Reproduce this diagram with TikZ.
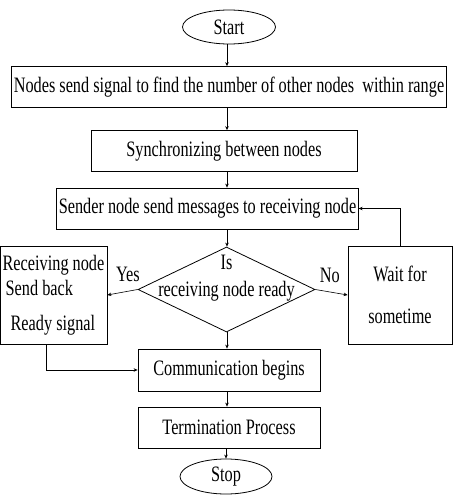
\documentclass[tikz,border=0pt]{standalone}
\usepackage{fontspec}
\setmainfont{Liberation Serif}[FakeStretch=0.74]
\usetikzlibrary{shapes.geometric,arrows.meta}

\begin{document}
\begin{tikzpicture}[x=1pt,y=1pt]
\tikzset{every node/.style={font=\fontsize{22}{25}\selectfont, inner sep=2pt},
	box/.style={draw, line width=0.8pt, minimum height=41pt},
	terminal/.style={draw, ellipse, line width=0.8pt, inner sep=0pt},
	decision/.style={draw, diamond, shape aspect=2.08, line width=0.8pt, inner sep=0pt, text height=15pt, text depth=2pt},
	flow/.style={draw, line width=0.6pt, -{Stealth[length=4pt,width=3.5pt]}}}
\useasboundingbox (0,0) rectangle (453,-495);
\coordinate (axis) at (227,0);

				\node[terminal, minimum width=93pt, minimum height=34pt] (start) at (229,-27) {Start};
				\node[box, minimum width=432pt] (probe) at (229,-87) {Nodes send signal to find the number of other nodes~ within range};
				\node[box, minimum width=266pt] (sync) at (224,-151) {Synchronizing between nodes};
				\node[box, minimum width=297pt] (sender) at (207.5,-208.5) {Sender node send messages to receiving node};
				\node[decision, minimum width=177pt, minimum height=85pt,
					label={[anchor=north, inner sep=2pt, yshift=-6pt]north:Is}] (ready) at (226.5,-289.5) {receiving node ready};
				\node[box, minimum width=107pt, minimum height=98pt, align=left] (back) at (53.5,-295)
					{Receiving node\\\hspace*{3pt}Send back\\[10pt]\hspace*{8pt}Ready signal};
				\node[box, minimum width=104pt, minimum height=98pt, align=center] (wait) at (400,-295)
					{Wait for\\[17pt]sometime};
				\node[box, minimum width=182pt, minimum height=42pt] (comm) at (229,-370) {Communication begins};
				\node[box, minimum width=182pt] (finish) at (229,-427.5) {Termination Process};
				\node[terminal, minimum width=92pt, minimum height=35pt] (stop) at (226,-476.5) {Stop};

% main line down the middle
				\draw[flow] (start.south -| axis) -- (probe.north -| axis);
				\draw[flow] (probe.south -| axis) -- (sync.north -| axis);
				\draw[flow] (sync.south -| axis) -- (sender.north -| axis);
				\draw[flow] (sender.south -| axis) -- (ready.north -| axis);
				\draw[flow] (ready.south -| axis) -- (comm.north -| axis);
				\draw[flow] (comm.south -| axis) -- (finish.north -| axis);
				\draw[flow] (finish.south -| stop.north) -- (stop.north);

% branches
				\draw[flow] (ready.west) -- node[above=7pt, pos=0.32] {Yes} (back.east);
				\draw[flow] (ready.east) -- node[above=7pt, pos=0.45] {No} (wait.west);
				\draw[flow] (wait.north) |- (sender.east);
				\draw[flow] ([xshift=-7.5pt]back.south) |- (comm.west);
\end{tikzpicture}
\end{document}
